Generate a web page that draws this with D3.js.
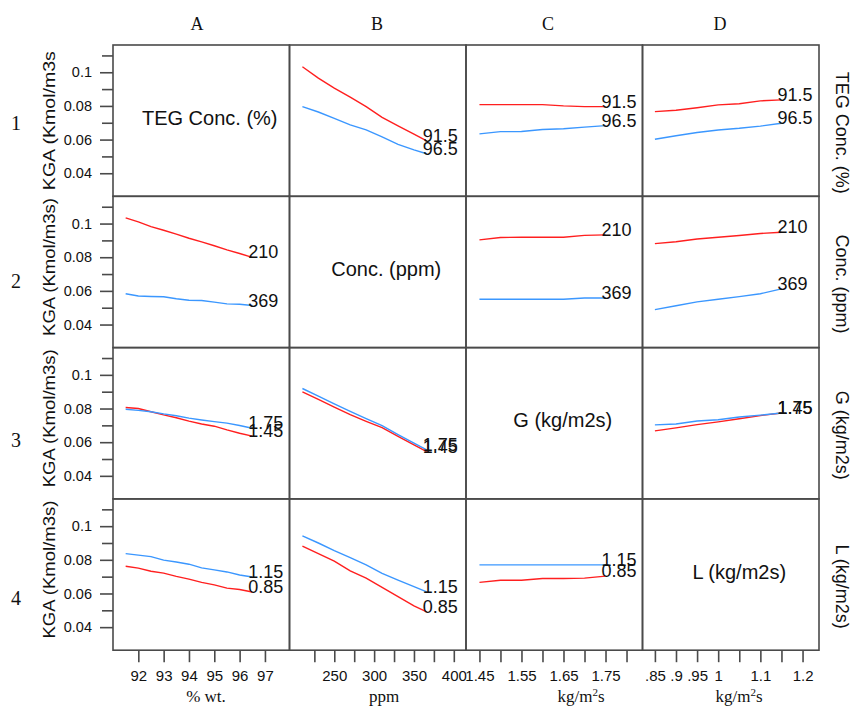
<!DOCTYPE html>
<html>
<head>
<meta charset="utf-8">
<script src="https://cdn.jsdelivr.net/npm/d3@7"></script>
<style>
  body { margin: 0; background: #fff; }
  svg { display: block; font-family: Arial, "Liberation Sans", sans-serif; }
</style>
</head>
<body>
<svg id="chart" width="853" height="708"></svg>
<script>
// columns = x variable, rows = parameter held at two levels
const colLetters = ["A", "B", "C", "D"];
const rowNumbers = ["1", "2", "3", "4"];
const paramNames = ["TEG Conc. (%)", "Conc. (ppm)", "G (kg/m2s)", "L (kg/m2s)"];
const yTitles = ["KGA (Kmol/m3s", "KGA (Kmol/m3s)", "KGA (Kmol/m3s)", "KGA (Kmol/m3s)"];
const levelLabels = [["91.5", "96.5"], ["210", "369"], ["1.45", "1.75"], ["0.85", "1.15"]];

// x values of the computed points, per column
const xA = [91.5, 92, 92.5, 93, 93.5, 94, 94.5, 95, 95.5, 96, 96.5];
const xB = [210, 230, 250, 270, 290, 310, 330, 350, 366];
const xC = [1.45, 1.5, 1.55, 1.6, 1.65, 1.7, 1.75];
const xD = [0.85, 0.9, 0.95, 1.0, 1.05, 1.1, 1.15];

// row 1 : TEG conc. 91.5 (red) / 96.5 (blue)
const teg915B = [0.1033, 0.0965, 0.0906, 0.0852, 0.0796, 0.0732, 0.0682, 0.0632, 0.0593];
const teg965B = [0.0796, 0.0764, 0.0726, 0.0687, 0.0658, 0.0616, 0.0572, 0.0539, 0.0516];
const teg915C = [0.0808, 0.0808, 0.0808, 0.0808, 0.0800, 0.0796, 0.0796];
const teg965C = [0.0634, 0.0647, 0.0648, 0.0660, 0.0664, 0.0674, 0.0683];
const teg915D = [0.0766, 0.0774, 0.0789, 0.0806, 0.0813, 0.0830, 0.0836];
const teg965D = [0.0602, 0.0623, 0.0642, 0.0657, 0.0667, 0.0680, 0.0697];
// row 2 : conc. 210 (red) / 369 (blue)
const conc210A = [0.1034, 0.1010, 0.0982, 0.0960, 0.0937, 0.0913, 0.0891, 0.0868, 0.0844, 0.0822, 0.0799];
const conc369A = [0.0583, 0.0570, 0.0567, 0.0565, 0.0553, 0.0544, 0.0543, 0.0533, 0.0523, 0.0521, 0.0513];
const conc210C = [0.0903, 0.0917, 0.0919, 0.0919, 0.0919, 0.0930, 0.0933];
const conc369C = [0.0550, 0.0550, 0.0550, 0.0550, 0.0550, 0.0558, 0.0558];
const conc210D = [0.0881, 0.0892, 0.0908, 0.0919, 0.0929, 0.0941, 0.0948];
const conc369D = [0.0489, 0.0512, 0.0535, 0.0550, 0.0566, 0.0583, 0.0612];
// row 3 : G 1.45 (red) / 1.75 (blue)
const g145A = [0.0806, 0.0800, 0.0781, 0.0762, 0.0745, 0.0725, 0.0708, 0.0695, 0.0673, 0.0653, 0.0636];
const g175A = [0.0796, 0.0789, 0.0781, 0.0768, 0.0757, 0.0743, 0.0732, 0.0722, 0.0713, 0.0699, 0.0683];
const g145B = [0.0899, 0.0854, 0.0808, 0.0764, 0.0724, 0.0686, 0.0635, 0.0584, 0.0544];
const g175B = [0.0919, 0.0873, 0.0827, 0.0783, 0.0740, 0.0698, 0.0645, 0.0594, 0.0554];
const g145D = [0.0667, 0.0685, 0.0704, 0.0721, 0.0739, 0.0758, 0.0773];
const g175D = [0.0703, 0.0708, 0.0726, 0.0733, 0.0750, 0.0761, 0.0773];
// row 4 : L 0.85 (red) / 1.15 (blue)
const l085A = [0.0762, 0.0751, 0.0732, 0.0721, 0.0702, 0.0685, 0.0666, 0.0651, 0.0632, 0.0624, 0.0609];
const l115A = [0.0837, 0.0828, 0.0819, 0.0798, 0.0787, 0.0774, 0.0752, 0.0740, 0.0728, 0.0710, 0.0698];
const l085B = [0.0881, 0.0837, 0.0792, 0.0734, 0.0691, 0.0636, 0.0581, 0.0526, 0.0491];
const l115B = [0.0942, 0.0900, 0.0855, 0.0813, 0.0770, 0.0720, 0.0680, 0.0641, 0.0610];
const l085C = [0.0666, 0.0679, 0.0679, 0.0689, 0.0689, 0.0691, 0.0703];
const l115C = [0.0770, 0.0770, 0.0770, 0.0770, 0.0770, 0.0770, 0.0770];

// axis ticks
const yMajor = [0.04, 0.06, 0.08, 0.1];
const yMinor = [0.05, 0.07, 0.09, 0.11];
const xTickVals = [
    [92, 93, 94, 95, 96, 97],
    [225, 250, 275, 300, 325, 350, 375, 400],
    [1.45, 1.5, 1.55, 1.6, 1.65, 1.7, 1.75, 1.8],
    [0.85, 0.9, 0.95, 1, 1.05, 1.1, 1.15, 1.2]
];
const xTickText = [
    ["92", "93", "94", "95", "96", "97"],
    ["", "250", "", "300", "", "350", "", "400"],
    ["1.45", "", "1.55", "", "1.65", "", "1.75", ""],
    [".85", ".9", ".95", "1", "", "1.1", "", "1.2"]
];
const xDomains = [[91, 97.97], [193.8, 415.3], [1.418, 1.838], [0.8206, 1.239]];
const yDomain = [0.0263, 0.1162];

const xValues = [xA, xB, xC, xD];
const panels = [
    {row: 0, col: 1, red: teg915B, blue: teg965B},
    {row: 0, col: 2, red: teg915C, blue: teg965C},
    {row: 0, col: 3, red: teg915D, blue: teg965D},
    {row: 1, col: 0, red: conc210A, blue: conc369A},
    {row: 1, col: 2, red: conc210C, blue: conc369C},
    {row: 1, col: 3, red: conc210D, blue: conc369D},
    {row: 2, col: 0, red: g145A, blue: g175A},
    {row: 2, col: 1, red: g145B, blue: g175B},
    {row: 2, col: 3, red: g145D, blue: g175D},
    {row: 3, col: 0, red: l085A, blue: l115A},
    {row: 3, col: 1, red: l085B, blue: l115B},
    {row: 3, col: 2, red: l085C, blue: l115C}
];

// layout
const gridLeft = 113, gridTop = 45;
const colW = 176.5, rowH = 151.3;
const redCol = "#ff1f1f", blueCol = "#3b97ff", frameCol = "#4a4a4a";
const serif = "'Liberation Serif', 'Times New Roman', serif";

const svg = d3.select("#chart");

const xScales = xDomains.map((dom, i) =>
    d3.scaleLinear().domain(dom).range([gridLeft + i * colW, gridLeft + (i + 1) * colW]));
const yScales = d3.range(4).map(i =>
    d3.scaleLinear().domain(yDomain).range([gridTop + (i + 1) * rowH, gridTop + i * rowH]));

// lines
const linePath = (xs, ys, c, r) => d3.line()
    .x((d, k) => xScales[c](xs[k]))
    .y(d => yScales[r](d))(ys);

const gLines = svg.append("g");
panels.forEach(p => {
    const xs = xValues[p.col];
    [[p.red, redCol], [p.blue, blueCol]].forEach(([ys, color]) => {
        gLines.append("path")
            .attr("d", linePath(xs, ys, p.col, p.row))
            .attr("fill", "none")
            .attr("stroke", color)
            .attr("stroke-width", 1.4);
    });
    // end labels
    [[p.red, 0], [p.blue, 1]].forEach(([ys, li]) => {
        gLines.append("text")
            .attr("x", xScales[p.col](xs[xs.length - 1]) - 4)
            .attr("y", yScales[p.row](ys[ys.length - 1]) + 1)
            .attr("font-size", 18)
            .attr("fill", "#111")
            .text(levelLabels[p.row][li]);
    });
});

// frames
for (let r = 0; r < 4; r++) {
    for (let c = 0; c < 4; c++) {
        svg.append("rect")
            .attr("x", gridLeft + c * colW)
            .attr("y", gridTop + r * rowH)
            .attr("width", colW)
            .attr("height", rowH)
            .attr("fill", "none")
            .attr("stroke", frameCol)
            .attr("stroke-width", 1.6);
    }
}

// diagonal labels
paramNames.forEach((name, i) => {
    svg.append("text")
        .attr("x", gridLeft + i * colW + colW / 2 + 8.5)
        .attr("y", gridTop + i * rowH + rowH / 2 + 4)
        .attr("text-anchor", "middle")
        .attr("font-size", 20)
        .attr("fill", "#111")
        .text(name);
});

// y axes
function styleAxis(g, size) {
    g.select(".domain").remove();
    g.selectAll("line").attr("stroke", frameCol).attr("stroke-width", 1.6);
    g.selectAll("text").attr("font-size", size).attr("fill", "#111")
        .attr("font-family", "Arial, 'Liberation Sans', sans-serif");
}
yScales.forEach((ys, i) => {
    svg.append("g")
        .attr("transform", `translate(${gridLeft},0)`)
        .call(d3.axisLeft(ys).tickValues(yMajor).tickSize(13).tickPadding(8)
            .tickFormat(d => d === 0.1 ? "0.1" : d3.format(".2f")(d)))
        .call(styleAxis, 14.5);
    svg.append("g")
        .attr("transform", `translate(${gridLeft},0)`)
        .call(d3.axisLeft(ys).tickValues(yMinor).tickSize(11).tickFormat(""))
        .call(styleAxis, 14.5);

    const cy = gridTop + i * rowH + rowH / 2 - (i === 0 ? 0 : 5);
    svg.append("text")
        .attr("transform", `translate(55,${cy}) rotate(-90)`)
        .attr("text-anchor", "middle")
        .attr("font-size", 17)
        .attr("textLength", i === 0 ? 139 : 138)
        .attr("lengthAdjust", "spacingAndGlyphs")
        .attr("fill", "#111")
        .text(yTitles[i]);

    // right-hand parameter names
    svg.append("text")
        .attr("transform", `translate(836,${gridTop + i * rowH + rowH / 2 + 12}) rotate(90)`)
        .attr("text-anchor", "middle")
        .attr("font-size", 18)
        .attr("fill", "#111")
        .text(paramNames[i]);

    // row numbers
    svg.append("text")
        .attr("x", 16)
        .attr("y", 130 + i * 158.3)
        .attr("text-anchor", "middle")
        .attr("font-family", serif)
        .attr("font-size", 20)
        .attr("fill", "#111")
        .text(rowNumbers[i]);
});

// x axes
const gridBottom = gridTop + 4 * rowH;
const letterX = [197, 377, 548, 720];
const xTitleX = [206, 384, 581, 739];
xScales.forEach((xs, i) => {
    svg.append("g")
        .attr("transform", `translate(0,${gridBottom})`)
        .call(d3.axisBottom(xs).tickValues(xTickVals[i]).tickSize(12).tickPadding(8)
            .tickFormat((d, k) => xTickText[i][k]))
        .call(styleAxis, 15);

    const t = svg.append("text")
        .attr("x", xTitleX[i])
        .attr("y", 702)
        .attr("text-anchor", "middle")
        .attr("font-family", serif)
        .attr("font-size", 17)
        .attr("fill", "#111");
    if (i < 2) {
        t.text(i === 0 ? "% wt." : "ppm");
    } else {
        t.append("tspan").text("kg/m");
        t.append("tspan").attr("dy", -6).attr("font-size", 11).text("2");
        t.append("tspan").attr("dy", 6).text("s");
    }

    svg.append("text")
        .attr("x", letterX[i])
        .attr("y", 30)
        .attr("text-anchor", "middle")
        .attr("font-family", serif)
        .attr("font-size", 18)
        .attr("fill", "#111")
        .text(colLetters[i]);
});
</script>
</body>
</html>
